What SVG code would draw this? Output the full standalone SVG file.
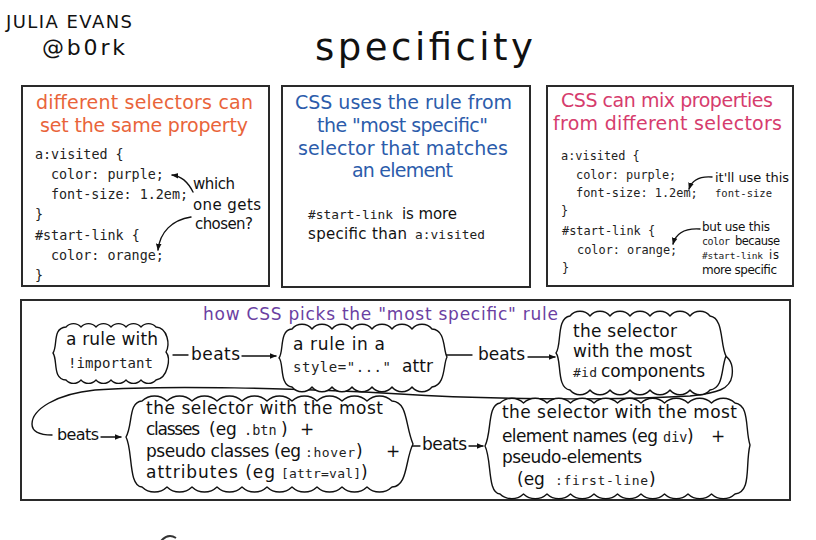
<svg xmlns="http://www.w3.org/2000/svg" width="816" height="540" viewBox="0 0 816 540">
<defs>
<style>
.hw{font-family:"DejaVu Sans","Noto Sans",sans-serif;fill:#111}
.m{font-family:"DejaVu Sans Mono","Liberation Mono",monospace;fill:#222}
.panel{fill:#fff;stroke:#2a2a2a;stroke-width:2}
.cloud{fill:#fff;stroke:#111;stroke-width:1.4;stroke-linejoin:round}
.ln{fill:none;stroke:#111;stroke-width:1.4;stroke-linecap:round}
.or{fill:#e9643a}.bl{fill:#2c5cab}.pk{fill:#d63c6d}.pu{fill:#6b3fa2}
</style>
<marker id="ah" viewBox="0 0 10 10" refX="9" refY="5" markerWidth="5" markerHeight="5" orient="auto"><path d="M0,1L10,5L0,9z" fill="#111"/></marker>
</defs>
<rect width="816" height="540" fill="#fff"/>

<g id="author">
<text class="hw" x="6" y="28" font-size="18" textLength="126">JULIA EVANS</text>
<text class="hw" x="42" y="55" font-size="22" textLength="83">@b0rk</text>
</g>
<g id="title">
<text class="hw" x="315" y="60" font-size="37" textLength="218">specificity</text>
</g>

<g id="panel1">
<rect class="panel" x="22" y="86" width="247" height="200"/>
<text class="hw or" x="36" y="109" font-size="19" textLength="217">different selectors can</text>
<text class="hw or" x="40" y="132" font-size="19" textLength="208">set the same property</text>
<g class="m" font-size="13.4">
<text x="35" y="159">a:visited {</text>
<text x="51" y="179">color: purple;</text>
<text x="51" y="199">font-size: 1.2em;</text>
<text x="35" y="219">}</text>
<text x="35" y="240">#start-link {</text>
<text x="51" y="260">color: orange;</text>
<text x="35" y="280">}</text>
</g>
<text class="hw" x="193" y="189" font-size="15" textLength="42">which</text>
<text class="hw" x="193" y="210" font-size="15" textLength="68">one gets</text>
<text class="hw" x="195" y="229" font-size="15" textLength="58">chosen?</text>
</g>

<g id="panel2">
<rect class="panel" x="282" y="86" width="248" height="201"/>
<text class="hw bl" x="295" y="109" font-size="19" textLength="217">CSS uses the rule from</text>
<text class="hw bl" x="317" y="132" font-size="19" textLength="171">the &quot;most specific&quot;</text>
<text class="hw bl" x="298" y="155" font-size="19" textLength="210">selector that matches</text>
<text class="hw bl" x="352" y="177" font-size="19" textLength="101">an element</text>
<text class="m" x="308" y="219" font-size="12.8" textLength="85">#start-link</text>
<text class="hw" x="402" y="219" font-size="15" textLength="55">is more</text>
<text class="hw" x="308" y="239" font-size="15" textLength="99">specific than</text>
<text class="m" x="415" y="239" font-size="12.8" textLength="70">a:visited</text>
</g>

<g id="panel3">
<rect class="panel" x="547" y="86" width="246" height="200"/>
<text class="hw pk" x="561" y="107" font-size="19" textLength="212">CSS can mix properties</text>
<text class="hw pk" x="553" y="130" font-size="19" textLength="229">from different selectors</text>
<g class="m" font-size="11.9">
<text x="561" y="160">a:visited {</text>
<text x="576" y="179">color: purple;</text>
<text x="576" y="197">font-size: 1.2em;</text>
<text x="561" y="215">}</text>
<text x="562" y="235">#start-link {</text>
<text x="577" y="254">color: orange;</text>
<text x="562" y="272">}</text>
</g>
<text class="hw" x="715" y="182" font-size="13" textLength="74">it'll use this</text>
<text class="m" x="715" y="197" font-size="10.5" textLength="57">font-size</text>
<text class="hw" x="702" y="231" font-size="12" textLength="68">but use this</text>
<text class="m" x="702" y="245" font-size="10" textLength="28">color</text>
<text class="hw" x="735" y="245" font-size="11.5" textLength="45">because</text>
<text class="m" x="702" y="259" font-size="9.5" textLength="61">#start-link</text>
<text class="hw" x="769" y="259" font-size="11.5" textLength="10">is</text>
<text class="hw" x="702" y="274" font-size="12" textLength="75">more specific</text>
</g>

<g id="rules-panel">
<rect class="panel" x="21" y="300" width="769" height="200"/>
<text class="hw pu" x="203" y="320" font-size="17" textLength="355">how CSS picks the &quot;most specific&quot; rule</text>
</g>

<g id="connectors">
<path class="ln" d="M193,192 C188,182 181,176 172,175" marker-end="url(#ah)"/>
<path class="ln" d="M191,217 C172,220 160,232 158,250" marker-end="url(#ah)"/>
<path class="ln" d="M712,177 C700,176 692,180 689,189" marker-end="url(#ah)"/>
<path class="ln" d="M700,229 C685,228 676,233 673,244" marker-end="url(#ah)"/>
<path class="ln" d="M173,355 H188"/>
<path class="ln" d="M242,356 H276" marker-end="url(#ah)"/>
<path class="ln" d="M443,355 H472"/>
<path class="ln" d="M528,357 H555" marker-end="url(#ah)"/>
<path class="ln" d="M716,356 C727,352 734,362 732,376 C730,389 718,393 690,396 C600,401 480,399 400,394 C300,388 160,385 95,390 C55,394 32,410 32,424 C32,432 40,435 52,435"/>
<path class="ln" d="M101,437 H121" marker-end="url(#ah)"/>
<path class="ln" d="M411,446 H420"/>
<path class="ln" d="M469,446 H483" marker-end="url(#ah)"/>
<text class="hw" x="191" y="360" font-size="17" textLength="49">beats</text>
<text class="hw" x="478" y="360" font-size="17" textLength="47">beats</text>
<text class="hw" x="57" y="440" font-size="16" textLength="42">beats</text>
<text class="hw" x="422" y="450" font-size="17" textLength="45">beats</text>
</g>

<g id="rule-important">
<path class="cloud" d="M66,327 a10,10 0 0 1 15,0 a10,10 0 0 1 15,0 a10,10 0 0 1 15,0 a10,10 0 0 1 15,0 a10,10 0 0 1 15,0 a10,10 0 0 1 15,0 C168,328 170,345 166,352 C171,358 168,378 156,380 a10,10 0 0 1 -15,0 a10,10 0 0 1 -15,0 a10,10 0 0 1 -15,0 a10,10 0 0 1 -15,0 a10,10 0 0 1 -15,0 a10,10 0 0 1 -15,0 C52,379 58,360 53,353 C58,346 52,328 66,327 Z"/>
<text class="hw" x="66" y="345" font-size="17" textLength="92">a rule with</text>
<text class="m" x="68" y="368" font-size="14" textLength="85">!important</text>
</g>

<g id="rule-style-attr">
<path class="cloud" d="M292,329 a13,13 0 0 1 20,0 a13,13 0 0 1 20,0 a13,13 0 0 1 20,0 a13,13 0 0 1 20,0 a13,13 0 0 1 20,0 a13,13 0 0 1 20,0 a13,13 0 0 1 20,0 C446,330 443,350 447,357 C443,364 446,385 432,387 a13,13 0 0 1 -20,0 a13,13 0 0 1 -20,0 a13,13 0 0 1 -20,0 a13,13 0 0 1 -20,0 a13,13 0 0 1 -20,0 a13,13 0 0 1 -20,0 a13,13 0 0 1 -20,0 C279,386 284,362 279,358 C284,352 279,330 292,329 Z"/>
<text class="hw" x="293" y="350" font-size="17" textLength="92">a rule in a</text>
<text class="m" x="293" y="372" font-size="14" textLength="98">style="..."</text>
<text class="hw" x="402" y="372" font-size="17" textLength="31">attr</text>
</g>

<g id="rule-id">
<path class="cloud" d="M570,316 a13,13 0 0 1 20,0 a13,13 0 0 1 20,0 a13,13 0 0 1 20,0 a13,13 0 0 1 20,0 a13,13 0 0 1 20,0 a13,13 0 0 1 20,0 a13,13 0 0 1 20,0 C724,318 720,345 726,356 C721,368 724,388 710,390 a13,13 0 0 1 -20,0 a13,13 0 0 1 -20,0 a13,13 0 0 1 -20,0 a13,13 0 0 1 -20,0 a13,13 0 0 1 -20,0 a13,13 0 0 1 -20,0 a13,13 0 0 1 -20,0 C556,388 562,360 556,353 C562,345 556,318 570,316 Z"/>
<text class="hw" x="573" y="337" font-size="17" textLength="104">the selector</text>
<text class="hw" x="573" y="357" font-size="17" textLength="119">with the most</text>
<text class="m" x="573" y="377" font-size="13" textLength="24">#id</text>
<text class="hw" x="601" y="377" font-size="17" textLength="104">components</text>
</g>

<g id="rule-classes">
<path class="cloud" d="M142,401 a18,18 0 0 1 25,0 a18,18 0 0 1 25,0 a18,18 0 0 1 25,0 a18,18 0 0 1 25,0 a18,18 0 0 1 25,0 a18,18 0 0 1 25,0 a18,18 0 0 1 25,0 a18,18 0 0 1 25,0 a18,18 0 0 1 25,0 a18,18 0 0 1 25,0 C408,402 405,425 413,444 C405,460 408,486 392,487 a18,18 0 0 1 -25,0 a18,18 0 0 1 -25,0 a18,18 0 0 1 -25,0 a18,18 0 0 1 -25,0 a18,18 0 0 1 -25,0 a18,18 0 0 1 -25,0 a18,18 0 0 1 -25,0 a18,18 0 0 1 -25,0 a18,18 0 0 1 -25,0 a18,18 0 0 1 -25,0 C128,486 133,450 126,437 C133,425 128,402 142,401 Z"/>
<text class="hw" x="146" y="414" font-size="17" textLength="237">the selector with the most</text>
<text class="hw" x="146" y="435" font-size="17" textLength="54">classes</text>
<text class="hw" x="209" y="435" font-size="17">(eg</text>
<text class="m" x="244" y="435" font-size="13.5">.btn</text>
<text class="hw" x="281" y="435" font-size="17">)</text>
<text class="hw" x="300" y="435" font-size="17">+</text>
<text class="hw" x="146" y="457" font-size="17" textLength="155">pseudo classes (eg</text>
<text class="m" x="305" y="457" font-size="13" textLength="50">:hover</text>
<text class="hw" x="356" y="457" font-size="17">)</text>
<text class="hw" x="386" y="457" font-size="17">+</text>
<text class="hw" x="146" y="478" font-size="17" textLength="129">attributes (eg</text>
<text class="m" x="281" y="478" font-size="13" textLength="80">[attr=val]</text>
<text class="hw" x="361" y="478" font-size="17">)</text>
</g>

<g id="rule-elements">
<path class="cloud" d="M500,403 a17,17 0 0 1 23.5,0 a17,17 0 0 1 23.5,0 a17,17 0 0 1 23.5,0 a17,17 0 0 1 23.5,0 a17,17 0 0 1 23.5,0 a17,17 0 0 1 23.5,0 a17,17 0 0 1 23.5,0 a17,17 0 0 1 23.5,0 a17,17 0 0 1 23.5,0 a17,17 0 0 1 23.5,0 C750,405 745,430 750,445 C745,465 752,492 735,494 a17,17 0 0 1 -23.5,0 a17,17 0 0 1 -23.5,0 a17,17 0 0 1 -23.5,0 a17,17 0 0 1 -23.5,0 a17,17 0 0 1 -23.5,0 a17,17 0 0 1 -23.5,0 a17,17 0 0 1 -23.5,0 a17,17 0 0 1 -23.5,0 a17,17 0 0 1 -23.5,0 a17,17 0 0 1 -23.5,0 C487,493 492,460 485,446 C492,432 487,405 500,403 Z"/>
<text class="hw" x="502" y="418" font-size="17" textLength="235">the selector with the most</text>
<text class="hw" x="502" y="442" font-size="17" textLength="156">element names (eg</text>
<text class="m" x="663" y="442" font-size="13.5">div</text>
<text class="hw" x="687" y="442" font-size="17">)</text>
<text class="hw" x="711" y="442" font-size="17">+</text>
<text class="hw" x="502" y="463" font-size="17" textLength="140">pseudo-elements</text>
<text class="hw" x="517" y="485" font-size="17">(eg</text>
<text class="m" x="555" y="485" font-size="13" textLength="93">:first-line</text>
<text class="hw" x="649" y="485" font-size="17">)</text>
</g>

<path d="M161,541 Q168,533 176,538" fill="none" stroke="#333" stroke-width="2"/>
</svg>
